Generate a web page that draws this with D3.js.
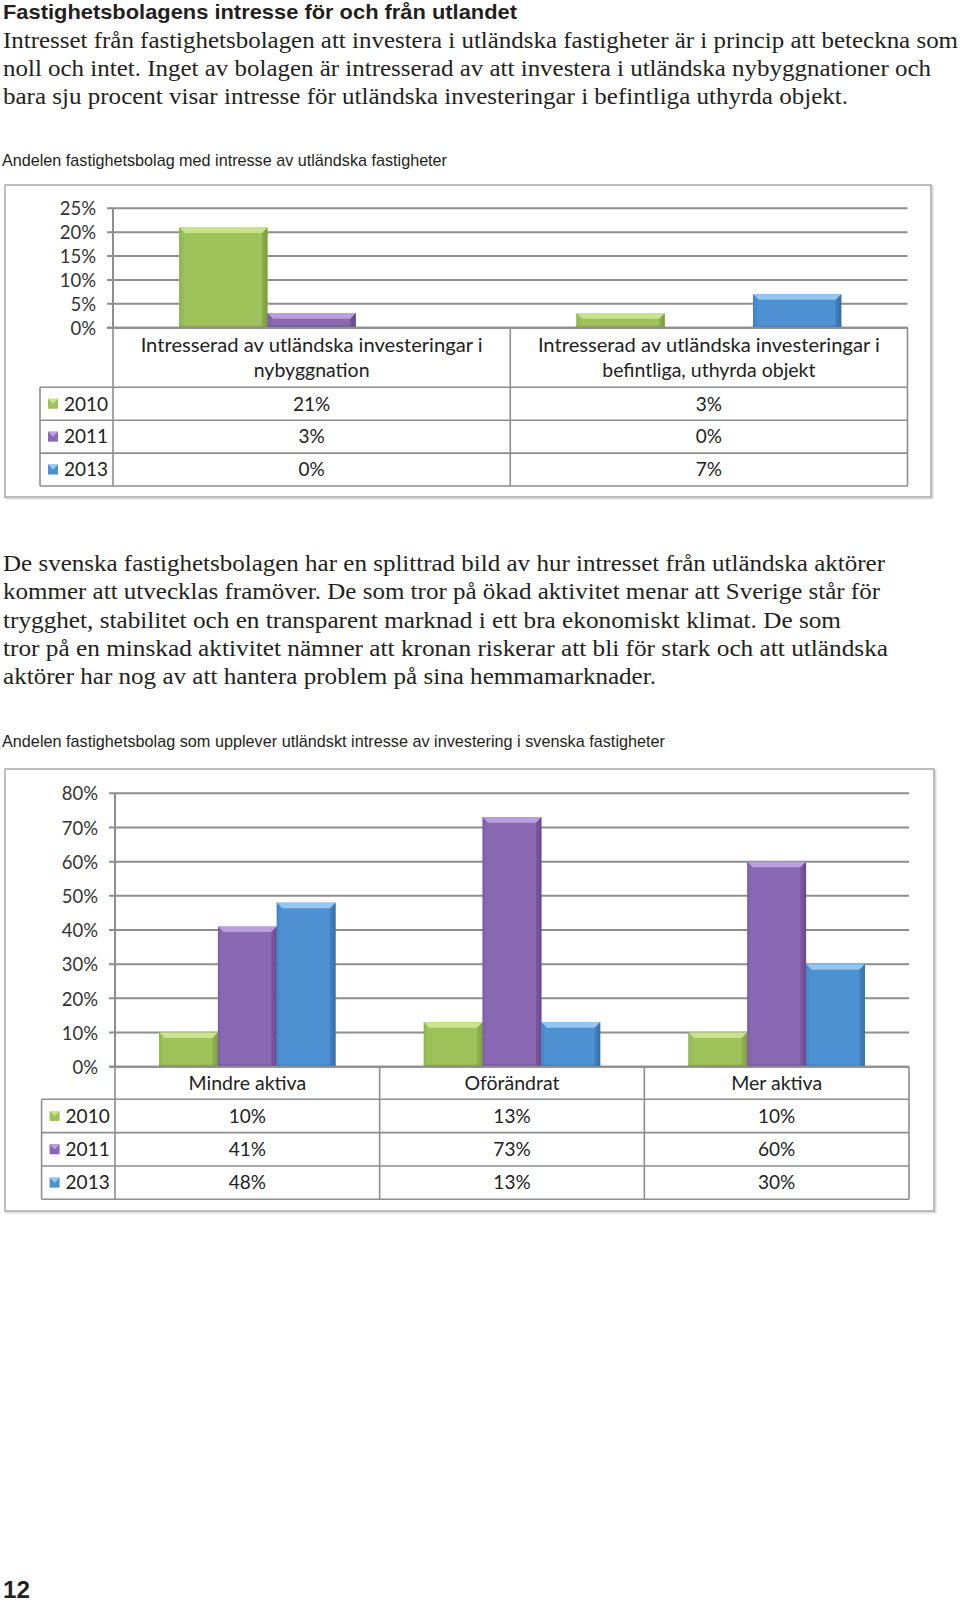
<!DOCTYPE html>
<html>
<head>
<meta charset="utf-8">
<script src="https://cdn.jsdelivr.net/npm/d3@7"></script>
<style>
  html, body { margin: 0; padding: 0; background: #fff; }
  svg { display: block; }
</style>
</head>
<body>
<script>
// ---------------- DATA ----------------
const years = ["2010", "2011", "2013"];

const chart1Categories = [
  ["Intresserad av utländska investeringar i", "nybyggnation"],
  ["Intresserad av utländska investeringar i", "befintliga, uthyrda objekt"]
];
const chart1Values2010 = [21, 3];
const chart1Values2011 = [3, 0];
const chart1Values2013 = [0, 7];
const chart1Ticks = [0, 5, 10, 15, 20, 25];

const chart2Categories = [["Mindre aktiva"], ["Oförändrat"], ["Mer aktiva"]];
const chart2Values2010 = [10, 13, 10];
const chart2Values2011 = [41, 73, 60];
const chart2Values2013 = [48, 13, 30];
const chart2Ticks = [0, 10, 20, 30, 40, 50, 60, 70, 80];

const pageTitle = "Fastighetsbolagens intresse för och från utlandet";
const paragraph1 = [
  "Intresset från fastighetsbolagen att investera i utländska fastigheter är i princip att beteckna som",
  "noll och intet. Inget av bolagen är intresserad av att investera i utländska nybyggnationer och",
  "bara sju procent visar intresse för utländska investeringar i befintliga uthyrda objekt."
];
const chart1Title = "Andelen fastighetsbolag med intresse av utländska fastigheter";
const paragraph2 = [
  "De svenska fastighetsbolagen har en splittrad bild av hur intresset från utländska aktörer",
  "kommer att utvecklas framöver. De som tror på ökad aktivitet menar att Sverige står för",
  "trygghet, stabilitet och en transparent marknad i ett bra ekonomiskt klimat. De som",
  "tror på en minskad aktivitet nämner att kronan riskerar att bli för stark och att utländska",
  "aktörer har nog av att hantera problem på sina hemmamarknader."
];
const chart2Title = "Andelen fastighetsbolag som upplever utländskt intresse av investering i svenska fastigheter";
const pageNumber = "12";

// ---------------- STYLE ----------------
const palette = [
  { base: "#9dc25a", light: "#cbe592", dark: "#7b9c3c" },
  { base: "#8a68b4", light: "#bda2e0", dark: "#654789" },
  { base: "#4d91d2", light: "#98c9f0", dark: "#356ea8" }
];
const gridColor = "#8e8e8e";
const chartFont = "Lato, 'Open Sans', sans-serif";
const textColor = "#231f20";

const svg = d3.select("body").append("svg")
  .attr("width", 960).attr("height", 1603)
  .attr("viewBox", "0 0 960 1603");
svg.append("rect").attr("width", 960).attr("height", 1603).attr("fill", "#fff");

// ---------------- TEXT ----------------
function fitText(x, y, str, width, opts) {
  const t = svg.append("text")
    .attr("x", x).attr("y", y)
    .attr("font-family", opts.family)
    .attr("font-size", opts.size)
    .attr("font-weight", opts.weight || "normal")
    .attr("fill", textColor)
    .text(str);
  if (width) t.attr("textLength", width).attr("lengthAdjust", "spacingAndGlyphs");
  return t;
}

const serif = "'Liberation Serif', 'DejaVu Serif', serif";
const sansN = "'Liberation Sans', Arial, sans-serif";

fitText(3, 19, pageTitle, 514, { family: sansN, size: 21, weight: "bold" });
const p1Widths = [955, 928, 845];
paragraph1.forEach((l, i) => fitText(3, 47.5 + i * 28, l, p1Widths[i], { family: serif, size: 23 }));
fitText(2, 166, chart1Title, 445, { family: sansN, size: 17 });

const p2Widths = [882, 877, 838, 885, 653];
paragraph2.forEach((l, i) => fitText(3, 571 + i * 28.3, l, p2Widths[i], { family: serif, size: 23 }));
fitText(2, 747, chart2Title, 663, { family: sansN, size: 17 });
fitText(3, 1598, pageNumber, 27, { family: sansN, size: 24, weight: "bold" });

// ---------------- CHART ----------------
function drawChart(cfg) {
  const g = svg.append("g");
  const { frame, plotLeft, plotRight, yTop, yZero, ticks, categories, series,
          headerBottom, rowHeight, legendLeft } = cfg;

  // frame with faint shadow
  g.append("rect")
    .attr("x", frame.x + 1.5).attr("y", frame.y + 1.5)
    .attr("width", frame.w).attr("height", frame.h)
    .attr("fill", "none").attr("stroke", "#dcdcdc").attr("stroke-width", 2);
  g.append("rect")
    .attr("x", frame.x).attr("y", frame.y)
    .attr("width", frame.w).attr("height", frame.h)
    .attr("fill", "#fff").attr("stroke", "#a9a9a9").attr("stroke-width", 1.5);

  const y = d3.scaleLinear().domain([0, d3.max(ticks)]).range([yZero, yTop]);
  const x0 = d3.scaleBand().domain(d3.range(categories.length))
    .range([plotLeft, plotRight]).paddingInner(0).paddingOuter(0);
  const gw = x0.bandwidth();
  const bw = gw / 4.5;
  const x1 = d3.scaleBand().domain(d3.range(series.length))
    .range([0.75 * bw, gw - 0.75 * bw]).padding(0);

  // gridlines
  g.append("g").selectAll("line").data(ticks).join("line")
    .attr("x1", plotLeft - 6).attr("x2", plotRight)
    .attr("y1", d => y(d)).attr("y2", d => y(d))
    .attr("stroke", gridColor).attr("stroke-width", 2);

  // y axis labels
  const axis = d3.axisLeft(y).tickValues(ticks).tickSize(0).tickPadding(0)
    .tickFormat(d => d + "%");
  const ag = g.append("g").attr("transform", `translate(${plotLeft - 17},0)`).call(axis);
  ag.select(".domain").remove();
  ag.selectAll("text").attr("font-family", chartFont).attr("font-size", 18.5)
    .attr("fill", "#333").attr("dy", "0.36em");

  // vertical axis line
  g.append("line").attr("x1", plotLeft).attr("x2", plotLeft)
    .attr("y1", y(d3.max(ticks))).attr("y2", yZero)
    .attr("stroke", gridColor).attr("stroke-width", 2);

  // bars
  const defs = svg.append("defs");
  series.forEach((s, si) => {
    const c = palette[si];
    const gid = `grad-${cfg.id}-${si}`;
    const lg = defs.append("linearGradient").attr("id", gid)
      .attr("x1", "0").attr("x2", "1").attr("y1", "0").attr("y2", "0");
    lg.append("stop").attr("offset", "0").attr("stop-color", c.dark);
    lg.append("stop").attr("offset", "0.06").attr("stop-color", c.base);
    lg.append("stop").attr("offset", "0.5").attr("stop-color", c.base);
    lg.append("stop").attr("offset", "0.94").attr("stop-color", c.base);
    lg.append("stop").attr("offset", "1").attr("stop-color", c.dark);

    const bars = g.append("g").selectAll("g")
      .data(s.values.map((v, i) => ({ v, i })).filter(d => d.v > 0))
      .join("g");
    bars.each(function(d) {
      const bx = x0(d.i) + x1(si);
      const w = x1.bandwidth();
      const top = y(d.v);
      const h = yZero - top;
      const b = Math.min(5.5, h / 2.2);
      const bg = d3.select(this);
      bg.append("rect").attr("x", bx).attr("y", top).attr("width", w).attr("height", h)
        .attr("fill", `url(#${gid})`);
      bg.append("polygon")
        .attr("points", [[bx, top], [bx + w, top], [bx + w - b, top + b], [bx + b, top + b]].join(" "))
        .attr("fill", c.light).attr("opacity", 0.95);
      bg.append("polygon")
        .attr("points", [[bx, top], [bx + b, top + b], [bx + b, yZero], [bx, yZero]].join(" "))
        .attr("fill", c.base).attr("opacity", 0.6);
      bg.append("polygon")
        .attr("points", [[bx + w, top], [bx + w - b, top + b], [bx + w - b, yZero], [bx + w, yZero]].join(" "))
        .attr("fill", c.dark).attr("opacity", 0.55);
      bg.append("rect").attr("x", bx).attr("y", yZero - 2).attr("width", w).attr("height", 2)
        .attr("fill", c.dark).attr("opacity", 0.6);
    });
  });

  // zero line on top
  g.append("line").attr("x1", plotLeft - 6).attr("x2", plotRight)
    .attr("y1", yZero).attr("y2", yZero)
    .attr("stroke", gridColor).attr("stroke-width", 2);

  // ---------- data table ----------
  const tableBottom = headerBottom + rowHeight * series.length;
  const tl = g.append("g").attr("stroke", gridColor).attr("stroke-width", 1.6);
  const vx = d3.range(categories.length + 1).map(i => i < categories.length ? x0(i) : plotRight);
  tl.selectAll("line.v").data(vx).join("line").attr("class", "v")
    .attr("x1", d => d).attr("x2", d => d).attr("y1", yZero).attr("y2", tableBottom);
  tl.append("line").attr("x1", legendLeft).attr("x2", legendLeft)
    .attr("y1", headerBottom).attr("y2", tableBottom);
  const hy = d3.range(series.length + 1).map(i => headerBottom + i * rowHeight);
  tl.selectAll("line.h").data(hy).join("line").attr("class", "h")
    .attr("x1", legendLeft).attr("x2", plotRight).attr("y1", d => d).attr("y2", d => d);

  // category labels
  const catG = g.append("g").attr("font-family", chartFont).attr("font-size", cfg.catSize)
    .attr("fill", "#222").attr("text-anchor", "middle");
  categories.forEach((lines, i) => {
    const cx = x0(i) + gw / 2;
    const mid = (yZero + headerBottom) / 2;
    const lh = cfg.catLineHeight;
    lines.forEach((l, li) => {
      const t = catG.append("text").attr("x", cx)
        .attr("y", mid + (li - (lines.length - 1) / 2) * lh)
        .attr("dy", "0.36em").text(l);
      if (cfg.catWidths && cfg.catWidths[li]) {
        t.attr("textLength", cfg.catWidths[li]).attr("lengthAdjust", "spacingAndGlyphs");
      }
    });
  });

  // rows
  series.forEach((s, si) => {
    const ry = headerBottom + si * rowHeight + rowHeight / 2;
    const c = palette[si];
    const mx = legendLeft + 8, ms = 10;
    g.append("rect").attr("x", mx).attr("y", ry - ms / 2).attr("width", ms).attr("height", ms)
      .attr("fill", c.base);
    g.append("polygon")
      .attr("points", [[mx, ry - ms / 2], [mx + ms, ry - ms / 2], [mx + ms / 2, ry]].join(" "))
      .attr("fill", c.light);
    g.append("text").attr("x", mx + ms + 6).attr("y", ry).attr("dy", "0.36em")
      .attr("font-family", chartFont).attr("font-size", 19).attr("fill", "#222")
      .text(s.name);
    s.values.forEach((v, i) => {
      g.append("text").attr("x", x0(i) + gw / 2).attr("y", ry).attr("dy", "0.36em")
        .attr("text-anchor", "middle")
        .attr("font-family", chartFont).attr("font-size", 19).attr("fill", "#222")
        .text(v + "%");
    });
  });
}

drawChart({
  id: "c1",
  frame: { x: 5, y: 185, w: 926, h: 312 },
  plotLeft: 113, plotRight: 907.5,
  yTop: 208.3, yZero: 327.7,
  ticks: chart1Ticks,
  categories: chart1Categories,
  series: [
    { name: years[0], values: chart1Values2010 },
    { name: years[1], values: chart1Values2011 },
    { name: years[2], values: chart1Values2013 }
  ],
  headerBottom: 387.3, rowHeight: 32.9, legendLeft: 40,
  catSize: 19.5, catLineHeight: 25.5, catWidths: [342, null]
});

drawChart({
  id: "c2",
  frame: { x: 5, y: 769, w: 929, h: 442 },
  plotLeft: 115, plotRight: 909,
  yTop: 793.3, yZero: 1066.7,
  ticks: chart2Ticks,
  categories: chart2Categories,
  series: [
    { name: years[0], values: chart2Values2010 },
    { name: years[1], values: chart2Values2011 },
    { name: years[2], values: chart2Values2013 }
  ],
  headerBottom: 1099.3, rowHeight: 33.33, legendLeft: 41.6,
  catSize: 19.5, catLineHeight: 25
});
</script>
</body>
</html>
